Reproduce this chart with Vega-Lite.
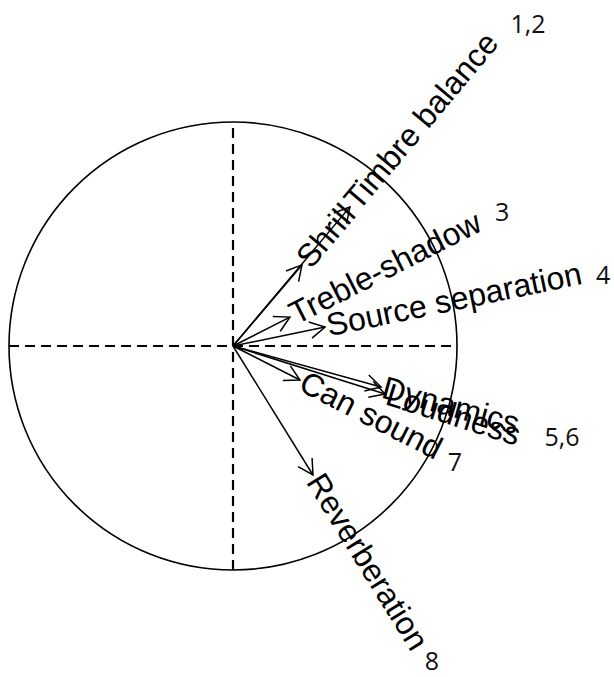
{
  "$schema": "https://vega.github.io/schema/vega-lite/v6.json",
  "width": 614,
  "height": 677,
  "autosize": {"type": "fit", "contains": "padding"},
  "padding": 0,
  "background": "white",
  "config": {"view": {"stroke": null}},
  "datasets": {
    "origin": [{"u": 0, "v": 0}],
    "axes": [
      {"u": -1, "v": 0, "u2": 1, "v2": 0},
      {"u": 0, "v": -1, "u2": 0, "v2": 1}
    ],
    "vectors": [
      {"label": "Shrill", "u0": 0, "v0": 0, "u": 0.308, "v": 0.362},
      {"label": "Timbre balance", "u0": 0, "v0": 0, "u": 0.522, "v": 0.621},
      {"label": "Treble-shadow", "u0": 0, "v0": 0, "u": 0.254, "v": 0.129},
      {"label": "Source separation", "u0": 0, "v0": 0, "u": 0.411, "v": 0.085},
      {"label": "Dynamics", "u0": 0, "v0": 0, "u": 0.661, "v": -0.183},
      {"label": "Loudness", "u0": 0, "v0": 0, "u": 0.679, "v": -0.214},
      {"label": "Can sound", "u0": 0, "v0": 0, "u": 0.299, "v": -0.152},
      {"label": "Reverberation", "u0": 0, "v0": 0, "u": 0.357, "v": -0.576}
    ],
    "nums": [
      {"t": "1,2", "u": 1.317, "v": 1.433},
      {"t": "3", "u": 1.201, "v": 0.594},
      {"t": "4", "u": 1.652, "v": 0.313},
      {"t": "5,6", "u": 1.469, "v": -0.411},
      {"t": "7", "u": 0.991, "v": -0.522},
      {"t": "8", "u": 0.888, "v": -1.411}
    ]
  },
  "layer": [
    {
      "data": {"name": "origin"},
      "mark": {"type": "point", "shape": "circle", "filled": false, "size": 200704, "stroke": "black", "strokeWidth": 1.6, "opacity": 1},
      "encoding": {
        "x": {"field": "u", "type": "quantitative", "scale": {"domain": [-1.0402, 1.7009], "nice": false, "zero": false}, "axis": null},
        "y": {"field": "v", "type": "quantitative", "scale": {"domain": [-1.4777, 1.5446], "nice": false, "zero": false}, "axis": null}
      }
    },
    {
      "data": {"name": "axes"},
      "mark": {"type": "rule", "color": "black", "strokeWidth": 2.2, "strokeDash": [10, 6]},
      "encoding": {
        "x": {"field": "u", "type": "quantitative", "axis": null},
        "y": {"field": "v", "type": "quantitative", "axis": null},
        "x2": {"field": "u2"},
        "y2": {"field": "v2"}
      }
    },
    {
      "data": {"name": "vectors"},
      "mark": {"type": "rule", "color": "black", "strokeWidth": 1.5},
      "encoding": {
        "x": {"field": "u0", "type": "quantitative", "axis": null},
        "y": {"field": "v0", "type": "quantitative", "axis": null},
        "x2": {"field": "u"},
        "y2": {"field": "v"}
      }
    },
    {
      "data": {"name": "vectors"},
      "transform": [{"calculate": "-atan2(datum.v, datum.u) * 180 / PI", "as": "rot"}],
      "mark": {"type": "point", "shape": "M -1 -0.55 L 0 0 L -1 0.55", "filled": false, "size": 900, "stroke": "black", "strokeWidth": 1.5, "opacity": 1},
      "encoding": {
        "x": {"field": "u", "type": "quantitative", "axis": null},
        "y": {"field": "v", "type": "quantitative", "axis": null},
        "angle": {"field": "rot", "type": "quantitative", "scale": null}
      }
    },
    {
      "data": {"name": "vectors"},
      "transform": [{"calculate": "-atan2(datum.v, datum.u) * 180 / PI", "as": "rot"}],
      "mark": {"type": "text", "align": "left", "baseline": "middle", "font": "Liberation Sans", "fontSize": 32, "color": "black", "dx": 2},
      "encoding": {
        "x": {"field": "u", "type": "quantitative", "axis": null},
        "y": {"field": "v", "type": "quantitative", "axis": null},
        "angle": {"field": "rot", "type": "quantitative", "scale": null},
        "text": {"field": "label"}
      }
    },
    {
      "data": {"name": "nums"},
      "mark": {"type": "text", "align": "center", "baseline": "middle", "font": "Open Sans", "fontSize": 25, "color": "#111111"},
      "encoding": {
        "x": {"field": "u", "type": "quantitative", "axis": null},
        "y": {"field": "v", "type": "quantitative", "axis": null},
        "text": {"field": "t"}
      }
    }
  ]
}
